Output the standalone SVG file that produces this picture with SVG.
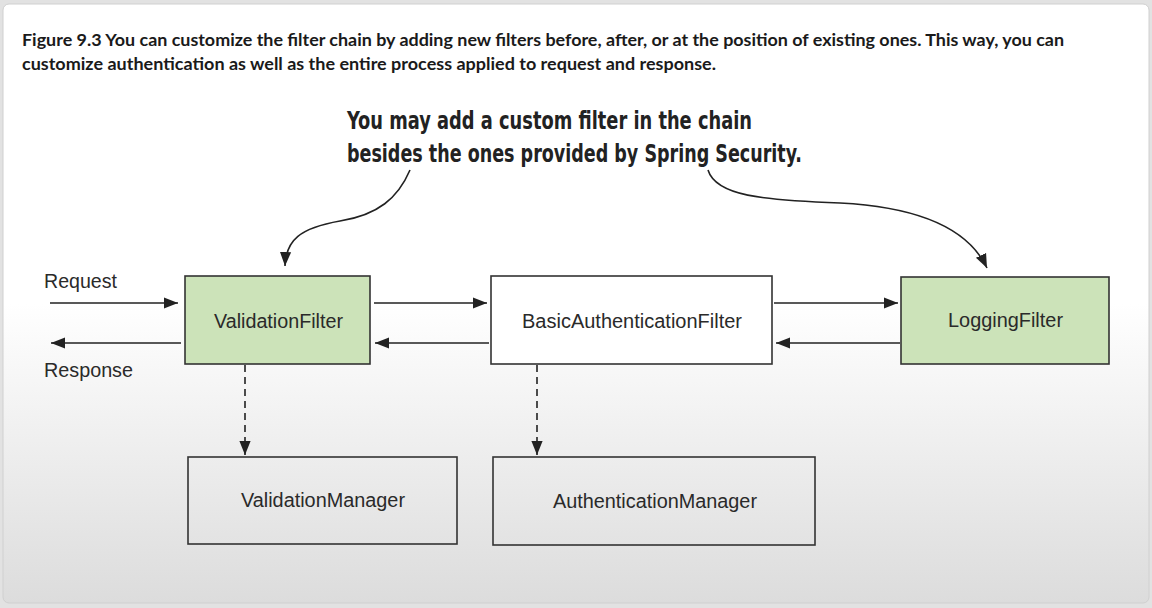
<svg xmlns="http://www.w3.org/2000/svg" width="1152" height="608" viewBox="0 0 1152 608">
<defs>
<linearGradient id="bg" x1="0" y1="0" x2="0" y2="1">
<stop offset="0" stop-color="#ffffff"/>
<stop offset="0.5" stop-color="#ffffff"/>
<stop offset="1" stop-color="#dcdcdc"/>
</linearGradient>
<marker id="ah" viewBox="0 0 10 10" refX="10" refY="5" markerWidth="14" markerHeight="14" markerUnits="userSpaceOnUse" orient="auto">
<path d="M0,1 L10,5 L0,9 Z" fill="#222"/>
</marker>
</defs>
<style>
.box{stroke:#333;stroke-width:1.6}
.green{fill:#cce3b9}
.white{fill:#ffffff}
.plain{fill:none}
.lbl{font-family:"Liberation Sans",Arial,sans-serif;font-size:20px;fill:#2a2a2a}
.mid{text-anchor:middle}
.con{stroke:#222;stroke-width:1.6;fill:none;marker-end:url(#ah)}
.dash{stroke-dasharray:7,5}
.title{font-family:Lato,"Noto Sans",sans-serif;font-weight:bold;font-size:17px;fill:#1a1a1a}
.call{font-family:"DejaVu Sans Condensed","DejaVu Sans",sans-serif;font-weight:bold;font-size:24px;fill:#222}
</style>
<rect x="0" y="0" width="1152" height="608" fill="#e2e2e2"/>
<rect x="3" y="4" width="1146" height="599" rx="6" fill="url(#bg)" stroke="#d0d0d0" stroke-width="1"/>
<g id="caption">
<text class="title" x="22" y="46" textLength="1042" lengthAdjust="spacingAndGlyphs">Figure 9.3 You can customize the filter chain by adding new filters before, after, or at the position of existing ones. This way, you can</text>
<text class="title" x="22" y="70" textLength="694" lengthAdjust="spacingAndGlyphs">customize authentication as well as the entire process applied to request and response.</text>
</g>
<g id="callout">
<text class="call" x="347" y="129" textLength="405" lengthAdjust="spacingAndGlyphs">You may add a custom filter in the chain</text>
<text class="call" x="347" y="162" textLength="455" lengthAdjust="spacingAndGlyphs">besides the ones provided by Spring Security.</text>
</g>
<g id="labels">
<text class="lbl" x="44" y="288" textLength="73" lengthAdjust="spacingAndGlyphs">Request</text>
<text class="lbl" x="44" y="377" textLength="89" lengthAdjust="spacingAndGlyphs">Response</text>
</g>
<g id="validationFilter">
<rect class="box green" x="185" y="276" width="185" height="88"/>
<text class="lbl" x="214" y="328" textLength="129" lengthAdjust="spacingAndGlyphs">ValidationFilter</text>
</g>
<g id="basicAuthenticationFilter">
<rect class="box white" x="491" y="276" width="281" height="88"/>
<text class="lbl" x="522" y="328" textLength="220" lengthAdjust="spacingAndGlyphs">BasicAuthenticationFilter</text>
</g>
<g id="loggingFilter">
<rect class="box green" x="901" y="277" width="208" height="87"/>
<text class="lbl" x="948" y="327" textLength="115" lengthAdjust="spacingAndGlyphs">LoggingFilter</text>
</g>
<g id="validationManager">
<rect class="box plain" x="188" y="457" width="269" height="87"/>
<text class="lbl" x="241" y="507" textLength="164" lengthAdjust="spacingAndGlyphs">ValidationManager</text>
</g>
<g id="authenticationManager">
<rect class="box plain" x="493" y="457" width="322" height="88"/>
<text class="lbl" x="553" y="508" textLength="204" lengthAdjust="spacingAndGlyphs">AuthenticationManager</text>
</g>
<g id="connectors">
<path class="con" d="M50,303 L178,303"/>
<path class="con" d="M181,343 L51,343"/>
<path class="con" d="M374,303 L487,303"/>
<path class="con" d="M489,343 L375,343"/>
<path class="con" d="M774,303 L898,303"/>
<path class="con" d="M900,343 L776,343"/>
<path class="con dash" d="M245,365 L245,455"/>
<path class="con dash" d="M537,365 L537,455"/>
<path class="con" d="M410,170 C398,198 378,215 340,221 C300,228 286,240 285,266"/>
<path class="con" d="M708,170 C716,196 762,200 840,203 C918,207 968,228 987,268"/>
</g>
</svg>
